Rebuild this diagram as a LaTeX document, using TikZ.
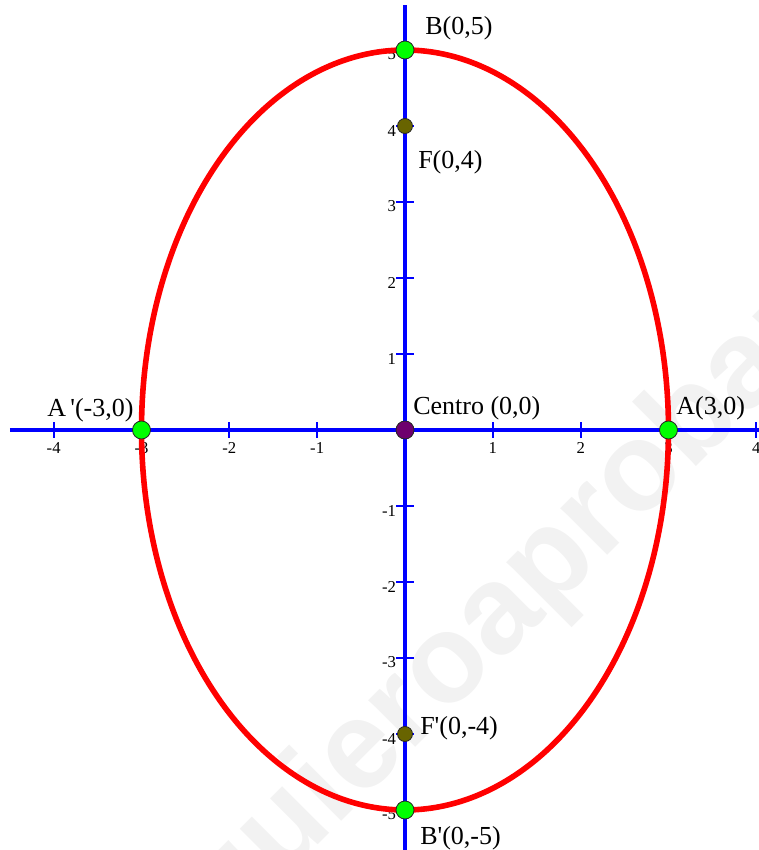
\documentclass[tikz,border=0pt]{standalone}
\usepackage{fontspec}
\setmainfont{Liberation Serif}[Ligatures=TeXOff]
\newfontfamily\wmfont{Liberation Sans}
\begin{document}
\begin{tikzpicture}[x=65.875pt, y=57pt,
  axisline/.style={blue, line width=2.9pt},
  tickmark/.style={blue, line width=1.4pt},
  ticklab/.style={font=\fontsize{12.5}{14}\selectfont, inner sep=0pt, text=black},
  ptlab/.style={font=\fontsize{19.5}{22}\selectfont, inner sep=0pt, anchor=west, text=black},
  curve/.style={red, line width=4.2pt},
  vertex/.style={circle, fill=green, draw=black!85, line width=0.6pt, minimum size=13.5pt, inner sep=0pt},
  focus/.style={circle, fill={rgb,255:red,104;green,100;blue,0}, draw=black!85, line width=0.6pt, minimum size=11.25pt, inner sep=0pt},
  centre/.style={circle, fill={rgb,255:red,110;green,0;blue,110}, draw=black!85, line width=0.6pt, minimum size=13.5pt, inner sep=0pt},
  watermark/.style={font=\wmfont\bfseries\fontsize{94}{100}\selectfont, text=black!5, inner sep=0pt, anchor=base, rotate=45}]
\useasboundingbox (-303.75pt,-315pt) rectangle (265.5pt,322.5pt);
% watermark
\node[watermark] (wm) at (92.25pt,-153.75pt) {quieroaprobar};
% axes
\draw[axisline] (-296.25pt,0) -- (265.5pt,0);
\draw[axisline] (0,-315pt) -- (0,318.75pt);
% ticks and labels on x axis
\foreach \i in {-4,-3,-2,-1,1,2,3,4} {
  \draw[tickmark] (\i,-0.105) -- (\i,0.105);
  \node[ticklab] (xl\i) at (\i,-0.237) {\i};
}
% ticks and labels on y axis
\foreach \j in {-5,-4,-3,-2,-1,1,2,3,4,5} {
  \draw[tickmark] (-0.1,\j) -- (0.1,\j);
  \node[ticklab, anchor=east] (yl\j) at (-0.1,\j-0.06) {\j};
}
% ellipse
\draw[curve] plot[domain=0:360, samples=181, smooth cycle] ({3*cos(\x)},{5*sin(\x)});
% points
\node[vertex] (B) at (0,5) {};
\node[vertex] (Bp) at (0,-5) {};
\node[vertex] (A) at (3,0) {};
\node[vertex] (Ap) at (-3,0) {};
\node[focus] (F) at (0,4) {};
\node[focus] (Fp) at (0,-4) {};
\node[centre] (C) at (0,0) {};
% labels
\node[ptlab] (Blab) at (0.228,5.289) {B(0,5)};
\node[ptlab] (Flab) at (0.148,3.526) {F(0,4)};
\node[ptlab] (Aplab) at (-4.076,0.263) {A\,'(-3,0)};
\node[ptlab] (Clab) at (0.091,0.289) {Centro (0,0)};
\node[ptlab] (Alab) at (3.086,0.289) {A(3,0)};
\node[ptlab] (Fplab) at (0.171,-3.921) {F'(0,-4)};
\node[ptlab] (Bplab) at (0.171,-5.368) {B'(0,-5)};
\end{tikzpicture}
\end{document}
